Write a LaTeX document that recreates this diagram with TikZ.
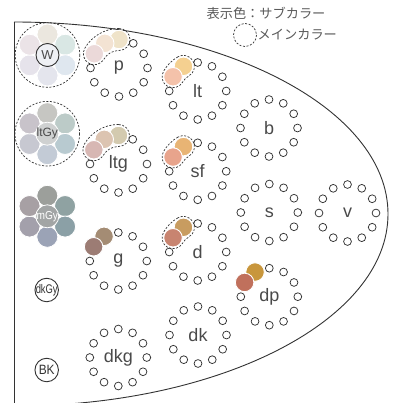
\documentclass[tikz,border=0pt]{standalone}
\usepackage{fontspec}
\setmainfont{Liberation Sans}
\newfontfamily\jpfont{Noto Sans CJK JP}
\definecolor{linec}{HTML}{333333}
\definecolor{labc}{HTML}{4A4A4A}
\definecolor{legc}{HTML}{5A5A5A}
% W group
\definecolor{wa}{HTML}{EBE7DF}\definecolor{wb}{HTML}{D9E7E4}\definecolor{wc}{HTML}{DFE7EF}
\definecolor{wd}{HTML}{E4E5ED}\definecolor{we}{HTML}{E6E3EB}\definecolor{wf}{HTML}{EBE3E7}
\definecolor{wcen}{HTML}{EEF0F4}
% ltGy group
\definecolor{la}{HTML}{C6C6C2}\definecolor{lb}{HTML}{BCCBC8}\definecolor{lc}{HTML}{B8CAD0}
\definecolor{ld}{HTML}{C3CBD6}\definecolor{le}{HTML}{C7C8D1}\definecolor{lf}{HTML}{C8C3CA}
\definecolor{lcen}{HTML}{CFD1D1}
% mGy group
\definecolor{ma}{HTML}{9C9F9B}\definecolor{mb}{HTML}{8FA2A2}\definecolor{mc}{HTML}{8BA0A6}
\definecolor{md}{HTML}{9BA3B6}\definecolor{me}{HTML}{A3A0AB}\definecolor{mf}{HTML}{A7A0A4}
\definecolor{mcen}{HTML}{A2A5A5}
% tone colours
\definecolor{pA}{HTML}{EFE3C9}\definecolor{pB}{HTML}{F3E3D3}\definecolor{pC}{HTML}{EBD9D9}
\definecolor{gA}{HTML}{D3CAAF}\definecolor{gB}{HTML}{DCC4B1}\definecolor{gC}{HTML}{D7B7B3}
\definecolor{ltA}{HTML}{F4D090}\definecolor{ltB}{HTML}{F4C2AA}
\definecolor{sfA}{HTML}{E8B474}\definecolor{sfB}{HTML}{E8A48C}
\definecolor{dA}{HTML}{C89C60}\definecolor{dB}{HTML}{C88470}
\definecolor{ggA}{HTML}{A48C74}\definecolor{ggB}{HTML}{9C7C74}
\definecolor{dpA}{HTML}{C8963C}\definecolor{dpB}{HTML}{C0705C}

\tikzset{
  outline/.style={draw=linec, line width=0.9pt},
  ringdot/.style={circle, draw=linec, line width=0.75pt, fill=white, minimum size=7.8pt, inner sep=0pt},
  tonedot/.style={circle, draw=white, line width=0.9pt, minimum size=18.5pt, inner sep=0pt},
  hexdot/.style={circle, draw=white, line width=0.8pt, minimum size=21pt, inner sep=0pt},
  bandline/.style={draw=linec, line width=0.7pt, dash pattern=on 2pt off 1.6pt},
  ringlabel/.style={text=labc, font=\fontsize{18}{20}\selectfont, inner sep=0pt},
  smallcirc/.style={circle, draw=linec, line width=0.9pt, fill=white, minimum size=23.5pt, inner sep=0pt},
}

\newcommand{\dotring}[4]{%
  \coordinate (#1) at (#2,#3);
  \foreach \a in {#4} \node[ringdot] (#1-d\a) at ([shift={(-\a:28.5)}]#1) {};
}
\newcommand{\tonedisc}[4]{%
  \node[tonedot, fill=#4] (#1) at ([shift={(-#3:28.5)}]#2) {};
}
\newcommand{\toneband}[3]{%
  \draw[bandline] ([shift={(-#2:39.5)}]#1)
    arc[start angle=-#2, end angle=-#3, radius=39.5]
    arc[start angle=-#3, end angle=-#3-180, radius=11]
    arc[start angle=-#3, end angle=-#2, radius=17.5]
    arc[start angle=-#2+180, end angle=-#2, radius=11] -- cycle;
}
\newcommand{\hexgroup}[9]{%
  \coordinate (#1) at (#2,#3);
  \node[hexdot, fill=#4] (#1-h1) at ([shift={(-90:20.5)}]#1) {};
  \node[hexdot, fill=#5] (#1-h2) at ([shift={(-30:20.5)}]#1) {};
  \node[hexdot, fill=#6] (#1-h3) at ([shift={(30:20.5)}]#1) {};
  \node[hexdot, fill=#7] (#1-h4) at ([shift={(90:20.5)}]#1) {};
  \node[hexdot, fill=#8] (#1-h5) at ([shift={(150:20.5)}]#1) {};
  \node[hexdot, fill=#9] (#1-h6) at ([shift={(-150:20.5)}]#1) {};
}

\begin{document}
\begin{tikzpicture}[x=1pt,y=-1pt]
\useasboundingbox (0,0) rectangle (392,403);
\fill[white] (0,0) rectangle (392,403);

% outer shape
\begin{scope}
  \clip (0,0) rectangle (392,403);
  \draw[outline] (14,22) arc[start angle=-90, end angle=90, x radius=374, y radius=192];
\end{scope}
\coordinate (topL) at (14,22);
\coordinate (botL) at (14,403);
\draw[outline] (topL) -- (botL);

% legend
\node[text=legc, font=\jpfont\fontsize{13.2}{15}\selectfont, inner sep=0pt] (leg1) at (266,13.5) {表示色：サブカラー};
\coordinate (legc) at (245,35);
\draw[bandline] (legc) circle[radius=11.5];
\node[text=legc, font=\jpfont\fontsize{13.2}{15}\selectfont, inner sep=0pt, anchor=west] (leg2) at (257.5,35) {メインカラー};

% left column: W
\hexgroup{W}{47.5}{55}{wa}{wb}{wc}{wd}{we}{wf}
\node[smallcirc, fill=wcen, minimum size=23pt] (Wn) at (W) {\fontsize{13}{14}\selectfont\color{labc}W};
\draw[bandline] (W) circle[radius=32.3];

% ltGy
\hexgroup{LG}{47.3}{133.7}{la}{lb}{lc}{ld}{le}{lf}
\node[circle, fill=lcen, draw=white, line width=0.8pt, minimum size=23pt, inner sep=0pt] (LGn) at (LG) {};
\node[text=labc, font=\fontsize{12}{13}\selectfont, inner sep=0pt] (LGt) at (LG) {ltGy};
\draw[bandline] (LG) circle[radius=32.3];

% mGy
\hexgroup{MG}{47.3}{216.3}{ma}{mb}{mc}{md}{me}{mf}
\node[circle, fill=mcen, draw=white, line width=0.8pt, minimum size=23pt, inner sep=0pt] (MGn) at (MG) {};
\node[text=white, font=\fontsize{11.5}{13}\selectfont, inner sep=0pt, xscale=0.88] (MGt) at (MG) {mGy};

% dkGy, BK
\node[smallcirc] (DG) at (46.7,290) {};
\node[text=linec, font=\fontsize{12.5}{13}\selectfont, inner sep=0pt, xscale=0.75] (DGt) at (DG) {dkGy};
\node[smallcirc] (BK) at (46.7,370) {};
\node[text=linec, font=\fontsize{13.5}{14}\selectfont, inner sep=0pt, xscale=0.88] (BKt) at (BK) {BK};

% rings, column 1
\dotring{p}{119}{68}{0,30,60,180,210,240,270,300,330}
\tonedisc{p1}{p}{90}{pA}\tonedisc{p2}{p}{120}{pB}\tonedisc{p3}{p}{150}{pC}
\toneband{p}{90}{150}
\node[ringlabel] (pl) at (p) {p};

\dotring{ltg}{118.5}{164}{0,30,60,180,210,240,270,300,330}
\tonedisc{ltg1}{ltg}{90}{gA}\tonedisc{ltg2}{ltg}{120}{gB}\tonedisc{ltg3}{ltg}{150}{gC}
\toneband{ltg}{90}{150}
\node[ringlabel] (ltgl) at (ltg) {ltg};

\dotring{g}{118.3}{261}{0,30,60,90,180,210,240,270,300,330}
\tonedisc{g1}{g}{120}{ggA}\tonedisc{g2}{g}{150}{ggB}
\node[ringlabel] (gl) at (g) {g};

\dotring{dkg}{118.3}{357.5}{0,30,...,330}
\node[ringlabel] (dkgl) at (dkg) {dkg};

% column 2
\dotring{lt}{197.7}{91}{0,30,60,90,180,210,240,270,300,330}
\tonedisc{lt1}{lt}{120}{ltA}\tonedisc{lt2}{lt}{150}{ltB}
\toneband{lt}{120}{150}
\node[ringlabel] (ltl) at (lt) {lt};

\dotring{sf}{197.7}{171.3}{0,30,60,90,180,210,240,270,300,330}
\tonedisc{sf1}{sf}{120}{sfA}\tonedisc{sf2}{sf}{150}{sfB}
\toneband{sf}{120}{150}
\node[ringlabel] (sfl) at (sf) {sf};

\dotring{d}{197.7}{252}{0,30,60,90,180,210,240,270,300,330}
\tonedisc{d1}{d}{120}{dA}\tonedisc{d2}{d}{150}{dB}
\toneband{d}{120}{150}
\node[ringlabel] (dl) at (d) {d};

\dotring{dk}{198}{335}{0,30,...,330}
\node[ringlabel] (dkl) at (dk) {dk};

% column 3
\dotring{b}{269}{128}{0,30,...,330}
\node[ringlabel] (bl) at (b) {b};

\dotring{s}{269.3}{212.5}{0,30,...,330}
\node[ringlabel] (sl) at (s) {s};

\dotring{dp}{269.3}{296.7}{0,30,60,90,180,210,240,270,300,330}
\tonedisc{dp1}{dp}{120}{dpA}\tonedisc{dp2}{dp}{150}{dpB}
\node[ringlabel] (dpl) at (dp) {dp};

% column 4
\dotring{v}{347.5}{213}{0,30,...,330}
\node[ringlabel] (vl) at (v) {v};
\end{tikzpicture}
\end{document}
